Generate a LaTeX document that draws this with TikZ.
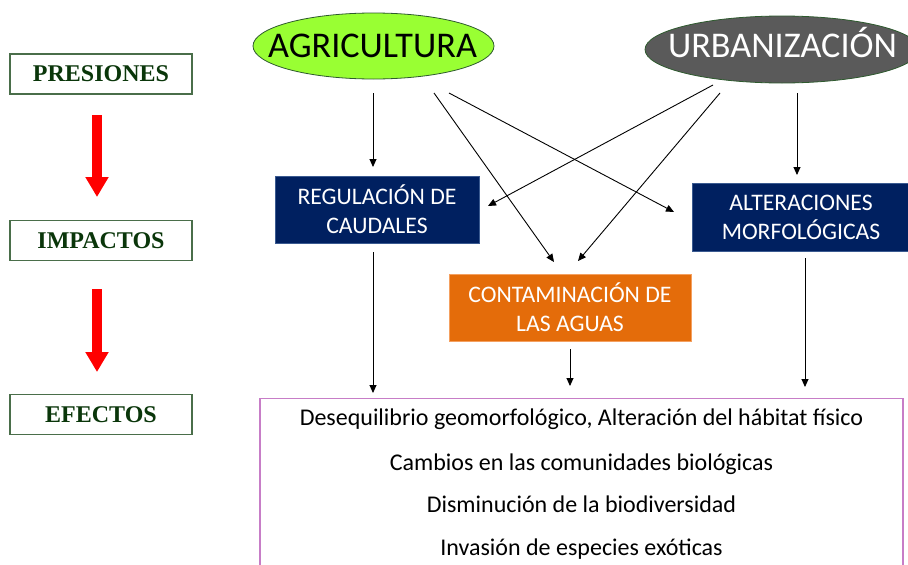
\documentclass[tikz,border=0pt]{standalone}
\usepackage{fontspec}
\setmainfont{Carlito}
\newfontfamily\serifb{Liberation Serif}
\usetikzlibrary{arrows.meta,shapes.geometric}
\definecolor{limefill}{HTML}{99FF33}
\definecolor{ellborder}{HTML}{2E5A2E}
\definecolor{urbgrey}{HTML}{5A5A5A}
\definecolor{navybox}{HTML}{002060}
\definecolor{navyline}{HTML}{3A5A90}
\definecolor{orangebox}{HTML}{E46C0A}
\definecolor{orangeline}{HTML}{F4A060}
\definecolor{stageborder}{HTML}{4A6E4A}
\definecolor{stagetext}{HTML}{0A360A}
\definecolor{effborder}{HTML}{C77DC7}
\definecolor{bigred}{HTML}{FF0000}
\tikzset{
  stage/.style={draw=stageborder, line width=1.2pt, minimum width=182pt, minimum height=40pt, inner sep=0pt,
    font=\serifb\bfseries\fontsize{24}{28}\selectfont, text=stagetext},
  impbox/.style={inner sep=0pt, align=center, text=white, font=\fontsize{23.7}{29}\selectfont},
  bigtext/.style={font=\fontsize{36.2}{40}\selectfont, inner sep=0pt, anchor=base},
  efftext/.style={font=\fontsize{24}{28}\selectfont, inner sep=0pt, anchor=base},
  arr/.style={draw=black, line width=0.9pt, -{Triangle[length=8pt,width=7pt]}},
  redarr/.style={draw=bigred, line width=10.5pt, -{Triangle[length=20pt,width=22pt]}}
}
\begin{document}
\begin{tikzpicture}[x=1pt,y=-1pt]
\useasboundingbox (0,0) rectangle (908,565);
\clip (0,0) rectangle (908,565);
\fill[white] (0,0) rectangle (908,565);

% stage labels
\node[stage] (pres) at (101,74) {PRESIONES};
\node[stage] (imp) at (101,240.5) {IMPACTOS};
\node[stage] (efe) at (101,414.5) {EFECTOS};

\coordinate (r1s) at (97,115);
\coordinate (r1e) at (97,197);
\coordinate (r2s) at (97,289);
\coordinate (r2e) at (97,372);
\draw[redarr] (r1s) -- (r1e);
\draw[redarr] (r2s) -- (r2e);

% pressures
\node[ellipse, draw=ellborder, line width=0.8pt, fill=limefill, minimum width=241pt, minimum height=66pt, inner sep=0pt] (agri) at (373.5,46) {};
\node[bigtext] (agriT) at (372.5,57) {AGRICULTURA};
\node[ellipse, draw=ellborder, line width=0.8pt, fill=urbgrey, minimum width=274pt, minimum height=67pt, inner sep=0pt] (urb) at (782,49.5) {};
\node[bigtext, text=white] (urbT) at (782.5,57) {URBANIZACIÓN};

% impacts
\node[impbox, fill=navybox, draw=navyline, line width=0.6pt, minimum width=204pt, minimum height=67pt] (reg) at (377,209.5) {REGULACIÓN DE\\CAUDALES};
\node[impbox, fill=navybox, draw=navyline, line width=0.6pt, minimum width=218pt, minimum height=68pt] (alt) at (801,217) {ALTERACIONES\\MORFOLÓGICAS};
\node[impbox, fill=orangebox, draw=orangeline, line width=0.6pt, minimum width=242pt, minimum height=67pt] (cont) at (570,307.5) {CONTAMINACIÓN DE\\LAS AGUAS};

% effects
\node[draw=effborder, line width=1.2pt, minimum width=643pt, minimum height=220pt, inner sep=0pt, anchor=north] (eff) at (581.5,398) {};
\node[efftext] (e1) at (581.5,425.5) {Desequilibrio geomorfológico, Alteración del hábitat físico};
\node[efftext] (e2) at (581.5,470.5) {Cambios en las comunidades biológicas};
\node[efftext] (e3) at (581.5,512.5) {Disminución de la biodiversidad};
\node[efftext] (e4) at (581.5,555.5) {Invasión de especies exóticas};

% connector endpoints
\coordinate (a1s) at (373,93);  \coordinate (a1e) at (373,167);
\coordinate (a2s) at (434,93);  \coordinate (a2e) at (554,262);
\coordinate (a3s) at (449,93);  \coordinate (a3e) at (674,212);
\coordinate (u1s) at (713,85);  \coordinate (u1e) at (488,206);
\coordinate (u2s) at (720,93);  \coordinate (u2e) at (578,261);
\coordinate (u3s) at (797,93);  \coordinate (u3e) at (797,175);
\coordinate (g1s) at (373,252); \coordinate (g1e) at (373,393);
\coordinate (c1s) at (570,349); \coordinate (c1e) at (570,386);
\coordinate (t1s) at (805,258); \coordinate (t1e) at (805,387);

\draw[arr] (a1s) -- (a1e);
\draw[arr] (a2s) -- (a2e);
\draw[arr] (a3s) -- (a3e);
\draw[arr] (u1s) -- (u1e);
\draw[arr] (u2s) -- (u2e);
\draw[arr] (u3s) -- (u3e);
\draw[arr] (g1s) -- (g1e);
\draw[arr] (c1s) -- (c1e);
\draw[arr] (t1s) -- (t1e);
\end{tikzpicture}
\end{document}
